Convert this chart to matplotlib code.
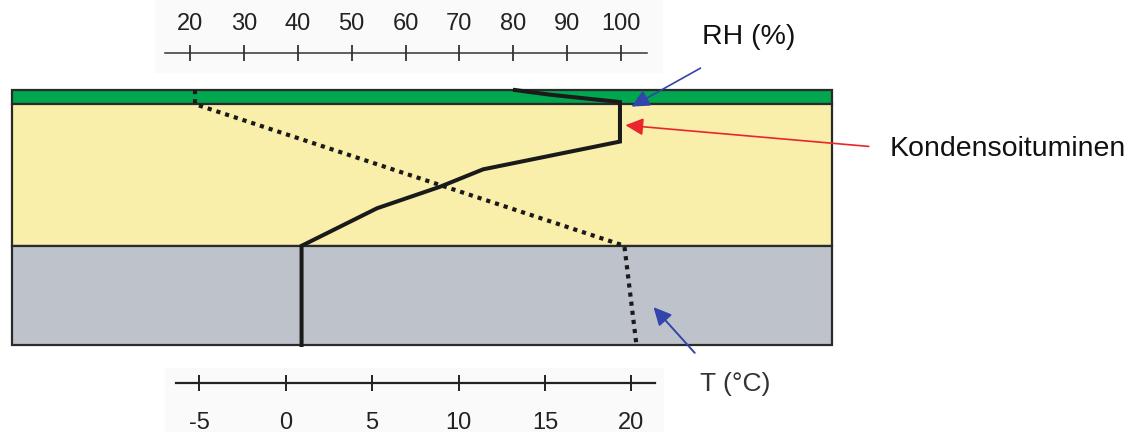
import matplotlib
matplotlib.use("Agg")
import matplotlib.pyplot as plt
from matplotlib.patches import Rectangle

plt.rcParams['font.family'] = ['Liberation Sans', 'DejaVu Sans']

# kerrokset (syvyys, mm)
layer_top = [0, 10, 110]
layer_bottom = [10, 110, 180]
layer_colors = ['#00a74f', '#f9efab', '#bec3cb']

# suhteellinen kosteus
rh_values = [80.3, 86.8, 99.8, 99.8, 74.4, 66.4, 54.7, 40.7, 40.7]
rh_depth = [0, 3.3, 8.5, 36.4, 56, 68.3, 83.5, 110, 180]

# lampotila
t_values = [-5.25, -5.25, 19.6, 20.3]
t_depth = [0, 10, 110, 180]

rh_ticks = [20, 30, 40, 50, 60, 70, 80, 90, 100]
t_ticks = [-5, 0, 5, 10, 15, 20]

fig = plt.figure(figsize=(11.45, 4.32), dpi=100)

# vaalea tausta asteikoille
fig.patches.append(Rectangle((155 / 1145, 1 - 72 / 432), 507 / 1145, 72 / 432,
                             transform=fig.transFigure, color='#fafafa', zorder=-5))
fig.patches.append(Rectangle((165 / 1145, 0), 498 / 1145, 64 / 432,
                             transform=fig.transFigure, color='#fafafa', zorder=-5))

ax = fig.add_axes([11.7 / 1145, 1 - 345 / 432, 820 / 1145, 255 / 432])
ax2 = ax.twiny()
ax.patch.set_visible(False)
ax2.patch.set_visible(False)
ax.set_xlim(-13.1, 139.1)
ax.set_ylim(180, 0)

for top, bot, c in zip(layer_top, layer_bottom, layer_colors):
    ax.axhspan(top, bot, facecolor=c, edgecolor='#2a2a2a', lw=1.6, zorder=1, clip_on=False)

for s in ['left', 'right', 'bottom', 'top']:
    ax.spines[s].set_visible(False)
    ax2.spines[s].set_visible(False)

# RH-asteikko ylhaalla
ax.spines['top'].set_visible(True)
ax.spines['top'].set_position(('outward', 26.6))
ax.spines['top'].set_bounds(15.4, 104.8)
ax.spines['top'].set_color('#333333')
ax.spines['top'].set_linewidth(1.1)
ax.xaxis.set_ticks_position('top')
ax.set_xticks(rh_ticks)
ax.set_xticklabels([str(v) for v in rh_ticks])
ax.tick_params(axis='x', direction='inout', length=11.5, width=1.2, colors='#222222',
               labelsize=17, pad=7, top=True, labeltop=True, bottom=False, labelbottom=False)
ax.set_yticks([])

ax.plot(rh_values, rh_depth, color='#1a1a1a', lw=2.9, solid_joinstyle='miter', zorder=3,
        clip_on=False)

# T-asteikko alhaalla
ax2.set_xlim(-15.86, 31.6)
ax2.set_ylim(180, 0)
ax2.spines['bottom'].set_visible(True)
ax2.spines['bottom'].set_position(('outward', 27.4))
ax2.spines['bottom'].set_bounds(-6.35, 21.37)
ax2.spines['bottom'].set_color('#222222')
ax2.spines['bottom'].set_linewidth(1.6)
ax2.xaxis.set_ticks_position('bottom')
ax2.set_xticks(t_ticks)
ax2.set_xticklabels([str(v) for v in t_ticks])
ax2.tick_params(axis='x', direction='inout', length=11.5, width=1.4, colors='#222222',
                labelsize=17, pad=15, bottom=True, labelbottom=True, top=False, labeltop=False)

ax2.plot(t_values, t_depth, color='#1a1a1a', lw=3.0, linestyle=(0, (1, 1.2)), zorder=3,
         clip_on=False)

# nuolet ja tekstit
arrow = '-|>,head_width=0.22,head_length=0.45'
ax.annotate('', xy=(101.5, 12.7), xytext=(115.2, -16.4), annotation_clip=False,
            arrowprops=dict(arrowstyle=arrow, color='#3344aa', lw=1.2, mutation_scale=24))
ax.annotate('', xy=(100.3, 24.7), xytext=(146.5, 40), annotation_clip=False,
            arrowprops=dict(arrowstyle=arrow, color='#e8262b', lw=1.2, mutation_scale=24))
ax2.annotate('', xy=(21.18, 151.8), xytext=(23.78, 187), annotation_clip=False,
             arrowprops=dict(arrowstyle=arrow, color='#3344aa', lw=1.4, mutation_scale=24))

ax.text(123.6, -37.4, 'RH (%)', fontsize=20.5, color='#111111', ha='center', va='center')
ax.text(149.9, 41.5, 'Kondensoituminen', fontsize=20.5, color='#111111', ha='left',
        va='center')
ax2.text(23.98, 207.5, 'T (°C)', fontsize=19, color='#333333', ha='left', va='center')

fig.savefig('out.png', dpi=100)
